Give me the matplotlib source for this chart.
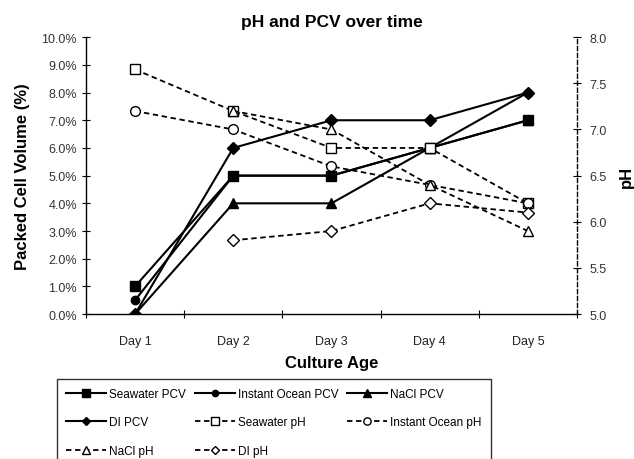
import numpy as np
import matplotlib
matplotlib.use('Agg')
import matplotlib.pyplot as plt

plt.rcParams['font.family'] = ['Liberation Sans', 'DejaVu Sans']

days = ['Day 1', 'Day 2', 'Day 3', 'Day 4', 'Day 5']

# packed cell volume, %
seawater_pcv = [1.0, 5.0, 5.0, 6.0, 7.0]
instant_ocean_pcv = [0.5, 5.0, 5.0, 6.0, 8.0]
nacl_pcv = [0.0, 4.0, 4.0, 6.0, 7.0]
di_pcv = [0.0, 6.0, 7.0, 7.0, 8.0]

# pH
seawater_ph = [7.65, 7.2, 6.8, 6.8, 6.2]
instant_ocean_ph = [7.2, 7.0, 6.6, 6.4, 6.2]
nacl_ph = [np.nan, 7.2, 7.0, 6.4, 5.9]
di_ph = [np.nan, 5.8, 5.9, 6.2, 6.1]

x = np.arange(1, len(days) + 1)

fig = plt.figure(figsize=(6.34, 4.6), dpi=100)
ax = fig.add_axes([0.1356, 0.315, 0.7744, 0.602])
ax2 = ax.twinx()

solid = dict(color='black', linewidth=1.5, linestyle='-')
dash = dict(color='black', linewidth=1.3, linestyle=(0, (3, 2)))

h = []
h += ax.plot(x, seawater_pcv, marker='s', markersize=7, label='Seawater PCV', **solid)
h += ax.plot(x, instant_ocean_pcv, marker='o', markersize=6, label='Instant Ocean PCV', **solid)
h += ax.plot(x, nacl_pcv, marker='^', markersize=7, label='NaCl PCV', **solid)
h += ax.plot(x, di_pcv, marker='D', markersize=6, label='DI PCV', **solid)
h += ax2.plot(x, seawater_ph, marker='s', markersize=7, mfc='white', mec='black',
              label='Seawater pH', **dash)
h += ax2.plot(x, instant_ocean_ph, marker='o', markersize=7, mfc='white', mec='black',
              label='Instant Ocean pH', **dash)
h += ax2.plot(x, nacl_ph, marker='^', markersize=7, mfc='white', mec='black',
              label='NaCl pH', **dash)
h += ax2.plot(x, di_ph, marker='D', markersize=6, mfc='white', mec='black',
              label='DI pH', **dash)

ax.set_xlim(0.5, 5.5)
ax.set_ylim(0, 10)
ax2.set_ylim(5.0, 8.0)

ax.set_xticks(x)
ax.set_xticklabels(days)
ax.set_xticks(np.arange(0.5, 6.0, 1.0), minor=True)
ax.tick_params(axis='x', which='major', length=0, pad=15, labelsize=9,
               labelcolor='#222222')
ax.tick_params(axis='x', which='minor', direction='inout', length=6, width=0.8)

ax.set_yticks(np.arange(0, 10.01, 1.0))
ax.set_yticklabels(['%.1f%%' % v for v in np.arange(0, 10.01, 1.0)])
ax.tick_params(axis='y', direction='inout', length=6, width=0.8, labelsize=9,
               labelcolor='#333333')
ax2.set_yticks(np.arange(5.0, 8.01, 0.5))
ax2.set_yticklabels(['%.1f' % v for v in np.arange(5.0, 8.01, 0.5)])
ax2.tick_params(axis='y', direction='inout', length=6, width=0.8, labelsize=9,
                pad=6, labelcolor='#333333')

for a in (ax, ax2):
    a.spines['top'].set_visible(False)
    a.spines['left'].set_linewidth(1.0)
    a.spines['bottom'].set_linewidth(1.0)
ax2.spines['right'].set_linestyle((0, (3, 2)))
ax2.spines['right'].set_linewidth(1.0)
ax.spines['right'].set_visible(False)
ax2.spines['left'].set_visible(False)
ax2.spines['bottom'].set_visible(False)

ax.set_title('pH and PCV over time', fontsize=12.5, fontweight='bold', pad=8)
ax.set_xlabel('Culture Age', fontsize=12, fontweight='bold', labelpad=6)
ax.set_ylabel('Packed Cell Volume (%)', fontsize=12, fontweight='bold', labelpad=8)
ax2.set_ylabel('pH', fontsize=12, fontweight='bold', labelpad=9)

# legend is filled row by row in the original
order = [0, 3, 6, 1, 4, 7, 2, 5]
leg = fig.legend(handles=[h[i] for i in order], loc='upper left',
                 bbox_to_anchor=(0.09, 0.174), ncol=3, fontsize=8.5,
                 frameon=True, fancybox=False, edgecolor='black',
                 handlelength=3.4, handletextpad=0.25, columnspacing=0.75,
                 labelspacing=1.4, borderpad=0.75, borderaxespad=0,
                 markerscale=0.75)
leg.get_frame().set_linewidth(1.0)

fig.savefig('out.png', dpi=100)
